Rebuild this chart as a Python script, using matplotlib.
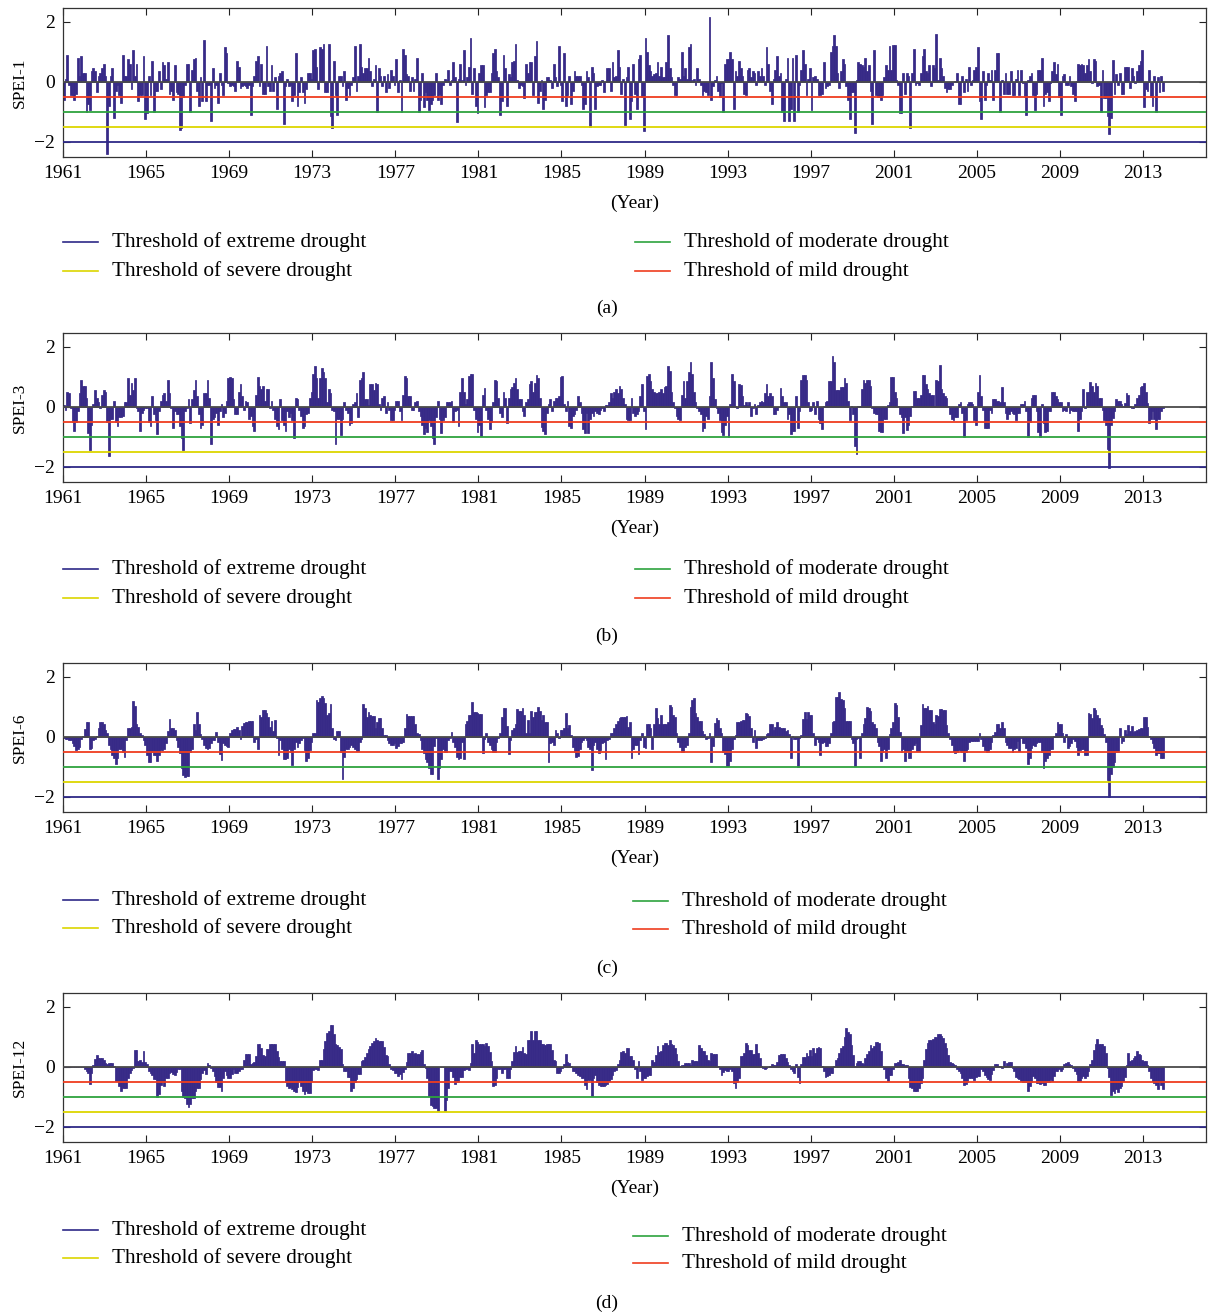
import numpy as np
import matplotlib.pyplot as plt
from matplotlib.lines import Line2D

plt.rcParams['font.family'] = ['Liberation Serif', 'DejaVu Serif']

# --------------------------
# Monthly SPEI values, Jan 1961 - Dec 2013 (one row per year)
# --------------------------
spei1 = [
    -0.6, 0.1, 0.9, -0.1, -0.45, -0.45, -0.6, -0.4, 0.8, 0.2, 0.85, 0.3,
    0.3, -1.0, -0.75, -0.95, 0.35, 0.45, 0.35, -0.35, 0.2, 0.3, 0.45, 0.6,
    0.2, -2.4, -0.8, 0.2, 0.45, -1.2, -0.3, -0.1, -0.45, -0.7, 0.9, 0.2,
    0.2, 0.75, 0.6, -0.25, 1.05, 0.2, 0.6, -0.65, -0.45, -0.45, 0.85, -1.25,
    -1.05, 0.2, -0.45, 0.7, -1.0, -0.3, -0.3, 0.35, -0.25, 0.65, 0.55, 0.1,
    0.65, -0.4, -0.3, -0.6, 0.55, -0.35, -0.4, -1.6, -1.55, -0.5, -0.1, 0.6,
    0.6, -1.0, 0.4, 0.75, 0.8, -0.3, -0.8, 0.15, -0.65, 1.4, -0.65, -0.1,
    -0.1, -1.3, 0.45, -0.2, -0.1, -0.7, 0.3, -0.1, -0.45, 1.15, 0.95, -0.05,
    -0.15, -0.1, -0.15, -0.3, 0.7, 0.5, -0.2, -0.15, -0.1, -0.15, -0.2, -0.1,
    -1.1, -0.15, 0.2, 0.7, 0.85, -0.15, 0.6, -0.4, -0.4, 1.2, -0.15, -0.3,
    0.55, -0.3, 0.15, -0.9, 0.2, 0.3, 0.35, -1.4, -0.15, 0.1, -0.15, -0.1,
    -0.65, -0.45, 0.95, -0.8, -0.35, 0.15, -0.35, -0.7, -0.25, 0.3, 0.3, 0.1,
    1.05, 1.1, 0.5, -0.25, 1.15, 1.1, 1.25, -0.35, -0.35, 1.25, -1.15, -1.55,
    0.7, -0.45, -1.1, 0.2, 0.2, -0.15, 0.35, -0.6, -0.2, -0.45, -0.1, 0.15,
    1.2, -0.3, 0.2, 1.25, 0.5, 0.3, 0.45, 0.45, 0.8, 0.35, -0.15, 0.1,
    0.55, -1.0, 0.45, 0.2, -0.15, 0.2, -0.35, 0.25, -0.2, 0.4, 0.2, -0.1,
    0.75, -0.35, 0.05, -1.0, 1.1, 0.9, 0.25, 0.2, -0.3, 0.15, -0.3, 0.1,
    0.8, -1.0, -0.6, 0.3, -0.85, -0.35, -0.6, -0.95, -0.75, -0.6, -0.45, 0.3,
    -0.6, -0.4, -0.75, -0.1, 0.1, 0.05, 0.4, -0.1, 0.05, 0.65, 0.15, -1.35,
    0.1, 0.6, 0.05, 1.05, -0.1, 0.15, 0.5, 1.45, -0.4, 0.45, -0.8, -1.05,
    0.3, 0.55, 0.55, -0.85, -0.45, -0.35, -0.35, 0.3, 0.95, 1.1, 0.35, 0.15,
    -1.1, -0.65, 0.9, 0.45, -0.8, 0.25, 0.15, 0.65, 0.7, 1.25, 0.05, -0.2,
    -0.1, -0.15, -0.55, 0.6, 0.3, 0.65, 0.65, -0.45, 0.85, 1.35, -0.7, -0.3,
    0.05, -0.9, -0.6, 0.15, 0.15, 0.05, -0.2, 0.6, 0.15, -0.15, 1.2, -0.1,
    -0.65, 0.95, -0.8, -0.45, 0.2, -0.75, -0.3, 0.35, 0.2, 0.2, 0.2, -0.1,
    -0.9, -0.75, 0.35, 0.15, -1.5, 0.5, 0.3, -0.9, -0.15, -0.1, -0.1, 0.05,
    -0.35, 0.0, 0.45, 0.45, -0.3, 0.65, 0.15, 0.2, 1.05, 0.5, -0.4, 0.1,
    -1.45, 0.15, 0.5, -1.25, -0.65, 0.6, -0.4, -0.9, 0.75, 0.9, -0.5, -1.65,
    1.45, 1.0, 0.55, 0.35, 0.2, 0.25, 0.3, 0.65, 0.2, 0.5, 0.15, 0.15,
    0.65, 1.55, 0.45, 0.15, -0.1, -0.45, -0.45, 0.15, 0.1, 1.0, 0.2, 0.45,
    0.1, 1.15, 1.25, 0.05, 0.1, -0.1, 0.45, 0.1, -0.1, -0.45, -0.3, -0.35,
    -0.45, 2.15, -0.6, -0.15, 0.05, 0.2, -0.3, -0.5, -0.05, -1.0, 0.6, 0.75,
    0.75, 1.0, 0.75, -0.9, 0.35, 0.2, 0.7, 0.45, 0.2, -0.4, -0.45, 0.4,
    0.45, 0.15, 0.35, 0.3, -0.1, 0.35, 0.2, 0.45, 0.2, -0.1, 1.15, 0.6,
    -0.3, -0.75, 0.1, 0.4, 0.85, 0.2, 0.3, -1.0, -1.3, 0.1, 0.8, -1.3,
    -0.9, 0.8, -1.3, 0.9, -1.0, -0.1, 0.4, 1.05, 0.6, -0.45, 0.1, 0.45,
    -0.95, 0.15, 0.2, 0.1, -0.45, -0.45, -0.4, 0.65, -0.2, -0.15, -0.1, 1.0,
    1.2, 1.55, 1.2, 0.3, -0.2, 0.35, 0.75, 0.6, -0.15, -0.6, -1.25, -0.35,
    -0.35, -1.7, 0.05, 0.65, 0.6, 0.55, 0.5, 0.8, 0.35, 0.55, -0.3, -1.4,
    1.05, -0.45, -0.5, -0.5, -0.6, -0.45, 0.15, 0.55, 0.4, 1.2, 0.4, 1.22,
    1.22, 0.05, -0.1, -1.05, -1.05, 0.3, -0.4, 0.3, 0.2, -1.55, 0.3, 1.1,
    -0.1, -0.05, -0.1, 0.3, 0.85, 1.1, 0.35, 0.3, 0.55, -0.15, 0.55, 0.45,
    1.6, 0.05, 0.8, 0.45, 0.2, -0.2, -0.35, -0.25, -0.25, -0.1, 0.0, 0.02,
    0.3, -0.75, -0.75, 0.2, -0.35, 0.1, -0.3, 0.5, -0.1, 0.05, 0.4, 0.5,
    1.15, -0.65, -1.25, 0.35, -0.6, -0.1, 0.3, 0.05, 0.4, -0.6, 0.4, 0.95,
    0.95, -1.0, 0.05, -0.4, 0.3, -0.4, -0.4, 0.35, -0.45, -0.45, 0.1, 0.4,
    -0.45, 0.4, -0.05, -0.5, -1.1, 0.05, 0.2, 0.3, -0.45, -0.95, -0.4, 0.4,
    0.4, 0.8, -0.8, -0.4, -0.35, -0.65, -0.05, 0.35, 0.65, 0.25, 0.6, -0.5,
    -1.1, 0.2, 0.25, -0.1, -0.1, 0.2, -0.15, -0.4, -0.65, 0.02, 0.6, 0.55,
    0.6, 0.55, 0.3, 0.55, 0.75, 0.35, -0.05, 0.75, 0.7, -0.15, -0.1, -1.0,
    0.4, -0.55, -0.55, -1.15, -1.75, -1.2, 0.72, -0.4, 0.25, -0.1, 0.3, -0.4,
    -0.4, 0.5, 0.5, 0.5, -0.2, 0.45, 0.2, -0.05, 0.35, 0.55, 0.7, 1.07,
    -0.85, -0.25, -0.3, 0.4, -0.5, -0.8, 0.2, -1.0, 0.15, -0.35, 0.2, -0.3,
]

spei3 = [
    0.05, -0.1, 0.5, 0.45, -0.05, -0.5, -0.8, -0.5, -0.15, 0.45, 0.9, 0.7,
    0.7, 0.3, -0.87, -1.45, -0.6, 0.1, 0.55, 0.3, 0.15, -0.05, 0.4, 0.55,
    0.5, -0.5, -1.65, -0.4, -0.4, 0.2, -0.5, -0.65, -0.35, -0.35, -0.3, 0.15,
    0.15, 0.95, 0.4, 0.8, 0.55, 0.95, -0.05, -0.15, -0.8, -0.2, -0.1, -0.05,
    -0.05, -0.5, -0.65, 0.35, -0.25, -0.45, -0.9, -0.15, 0.2, 0.4, 0.45, 0.2,
    0.9, 0.45, -0.05, -0.7, -0.15, -0.25, -0.25, -0.65, -1.05, -1.45, -0.15, -0.05,
    0.25, -0.55, 0.25, 0.55, 0.9, 0.35, -0.25, -0.7, -0.6, 0.45, 0.45, 0.9,
    0.3, -1.25, -0.4, -0.35, -0.2, -0.6, -0.15, 0.1, -0.35, -0.2, 0.2, 0.95,
    1.0, 0.95, 0.25, -0.25, -0.25, 0.5, 0.75, 0.35, -0.1, 0.2, 0.15, -0.4,
    -0.3, -0.65, -0.8, 0.4, 1.0, 0.7, 0.6, 0.7, 0.2, 0.6, 0.6, -0.05,
    0.2, -0.1, -0.4, -0.65, -0.75, 0.25, -0.45, -0.6, -0.8, -0.15, -0.35, -0.2,
    -0.45, -1.05, 0.3, 0.25, -0.1, -0.3, -0.7, -0.65, -0.25, -0.2, 0.3, 0.5,
    1.1, 1.35, 0.95, 0.3, 0.95, 1.28, 1.17, 0.95, 0.15, 0.6, 0.45, -0.1,
    -0.15, -1.25, -0.4, -0.4, -0.95, -0.4, 0.15, -0.1, -0.2, -0.6, -0.55, 0.1,
    0.15, 0.45, -0.35, 0.9, 0.95, 1.15, 0.25, 0.25, 0.05, 0.75, 0.75, 0.55,
    0.8, 0.75, 0.1, -0.1, 0.3, 0.35, -0.2, 0.15, -0.1, -0.45, -0.45, -0.1,
    0.2, 0.2, -0.15, -0.45, 0.4, 1.02, 0.95, 0.35, 0.35, -0.1, -0.1, 0.15,
    0.2, -0.15, -0.3, -0.6, -0.9, -0.7, -0.85, -0.45, -0.65, -1.05, -1.25, -0.35,
    0.2, -0.4, -0.87, -0.45, -0.35, 0.15, 0.15, 0.15, 0.2, -0.5, -0.15, -0.1,
    -0.65, 0.5, 0.95, 0.5, 0.1, 0.25, 1.02, 1.08, 1.1, -0.1, -0.4, -0.85,
    -0.6, -0.97, 0.4, 0.63, -0.1, -0.4, -0.75, -0.5, 0.15, 0.88, 0.85, 0.3,
    -0.2, -0.35, 0.5, 0.3, -0.55, 0.3, 0.6, 0.65, 0.8, 0.97, 0.6, 0.25,
    0.25, -0.15, -0.3, 0.15, 0.25, 0.75, 0.85, 0.5, 0.8, 1.05, 0.95, 0.3,
    -0.68, -0.8, -0.9, -0.2, 0.1, 0.25, -0.15, 0.2, 0.3, 0.3, 0.35, 1.0,
    1.02, 0.1, -0.15, 0.2, -0.65, -0.7, -0.3, -0.25, -0.1, 0.35, 0.15, -0.2,
    -0.75, -0.87, -0.2, -0.87, -0.4, -0.2, -0.3, -0.15, -0.2, -0.25, -0.1, -0.05,
    -0.15, 0.05, 0.05, 0.15, 0.45, 0.3, 0.5, 0.6, 0.45, 0.7, 0.6, 0.3,
    0.1, -0.4, -0.45, -0.45, 0.3, -0.2, -0.3, -0.25, -0.15, 0.35, 0.77, -0.15,
    -0.75, 1.02, 1.1, 0.85, 0.6, 0.5, 0.45, 0.45, 0.5, 0.6, 0.45, 0.65,
    0.7, 1.35, 1.2, 0.5, 0.15, -0.05, -0.3, -0.4, -0.45, 0.4, 0.85, 0.3,
    0.85, 1.17, 1.47, 1.08, 0.5, 0.15, -0.05, -0.15, -0.25, -0.8, -0.7, -0.3,
    -0.4, 0.35, 1.47, 0.95, 0.25, -0.05, -0.2, -0.45, -0.85, -0.95, -0.6, -0.3,
    -1.0, 0.1, 1.1, 0.85, 0.02, -0.05, 0.77, 0.72, 0.35, 0.05, 0.15, 0.05,
    0.15, -0.3, -0.05, 0.1, -0.25, 0.05, 0.15, 0.2, 0.15, 0.45, 0.77, 0.35,
    0.45, 0.35, -0.25, -0.25, -0.1, 0.0, 0.63, 0.35, 0.15, 0.15, -0.4, -0.25,
    -0.9, -0.8, -0.8, 0.35, -0.7, -0.15, 0.9, 1.07, 1.07, 0.9, 0.15, -0.15,
    -0.1, 0.15, -0.25, 0.2, -0.4, -0.55, -0.73, 0.02, 0.15, 0.2, 0.85, 0.85,
    1.68, 1.47, 0.55, 0.55, 0.55, 0.65, 0.65, 0.97, 0.8, 0.2, -0.45, 0.02,
    -0.25, -1.3, -1.57, 0.02, 0.02, 0.6, 0.88, 0.8, 0.9, 0.9, 0.7, -0.05,
    -0.2, -0.25, -0.25, -0.8, -0.85, -0.85, -0.4, -0.4, 0.05, 0.15, 1.0, 1.0,
    0.5, 0.3, 0.02, -0.25, -0.35, -0.87, -0.35, -0.77, -0.6, -0.3, 0.02, 0.52,
    0.52, 0.3, 0.3, 0.4, 1.07, 1.07, 0.75, 0.6, 0.45, 0.4, 0.4, 0.02,
    0.9, 0.85, 1.4, 0.6, 0.45, 0.35, 0.3, 0.02, -0.25, -0.4, -0.45, -0.35,
    -0.35, 0.1, 0.15, -0.2, -1.0, -0.45, 0.1, 0.15, 0.15, 0.1, -0.45, -0.6,
    0.5, 1.07, 0.35, -0.1, -0.7, -0.7, -0.7, -0.1, -0.2, 0.25, 0.25, 0.2,
    0.2, 0.15, 0.65, 0.15, -0.2, -0.4, -0.25, -0.15, -0.2, -0.25, -0.45, -0.2,
    -0.2, 0.1, 0.1, 0.2, -0.15, -1.0, -0.5, 0.3, 0.4, 0.4, -0.15, -0.83,
    -1.0, 0.1, -0.55, -0.83, -0.8, -0.15, -0.15, 0.5, 0.5, 0.35, 0.25, 0.15,
    0.15, -0.15, -0.1, -0.15, 0.15, -0.2, -0.1, -0.15, -0.15, -0.15, -0.8, -0.4,
    -0.15, 0.6, -0.05, 0.5, 0.5, 0.83, 0.7, 0.5, 0.8, 0.7, 0.3, 0.28,
    -0.1, -0.45, -0.6, -1.42, -2.03, -0.6, -0.37, -0.15, 0.25, 0.2, 0.19, 0.1,
    0.02, 0.13, 0.47, 0.4, 0.02, -0.05, -0.05, 0.08, 0.3, 0.38, 0.65, 0.7,
    0.78, 0.5, 0.13, -0.53, -0.4, -0.15, -0.42, -0.75, -0.42, -0.42, -0.15, -0.05,
]

spei6 = [
    -0.05, -0.08, -0.08, -0.1, -0.1, -0.2, -0.3, -0.45, -0.42, -0.33, -0.08, 0.02,
    0.25, 0.5, 0.48, -0.4, -0.37, -0.12, -0.08, 0.02, 0.28, 0.5, 0.5, 0.44,
    0.22, 0.14, -0.28, -0.41, -0.6, -0.72, -0.92, -0.72, -0.41, -0.41, -0.5, -0.67,
    -0.1, 0.28, 0.28, 0.33, 1.19, 1.03, 0.44, 0.33, 0.11, 0.05, -0.11, -0.28,
    -0.6, -0.85, -0.85, -0.5, -0.6, -0.62, -0.8, -0.62, -0.45, -0.45, -0.42, -0.2,
    0.2, 0.6, 0.3, 0.28, 0.22, -0.1, -0.33, -0.55, -1.05, -1.27, -1.35, -1.3,
    -1.3, -0.5, -0.41, 0.41, 0.22, 0.83, 0.41, 0.1, -0.08, -0.28, -0.39, -0.41,
    -0.37, -0.2, -0.12, -0.1, 0.17, -0.17, -0.58, -0.78, -0.22, -0.28, -0.31, -0.33,
    0.11, 0.22, 0.25, 0.26, 0.33, 0.22, -0.08, 0.37, 0.45, 0.48, 0.5, 0.52,
    0.52, 0.52, -0.17, -0.08, -0.41, 0.72, 0.67, 0.9, 0.9, 0.78, 0.67, 0.33,
    0.52, 0.19, 0.55, -0.05, -0.6, -0.11, -0.41, -0.75, -0.75, -0.7, -0.41, -0.5,
    -0.95, -0.41, -0.17, -0.33, -0.22, -0.1, -0.05, -0.44, -0.8, -0.72, -0.44, -0.17,
    0.11, 0.11, 1.22, 1.17, 1.28, 1.35, 1.3, 1.11, 0.72, 0.78, 1.09, 0.3,
    -0.08, -0.11, 0.2, 0.2, -0.5, -1.41, -0.67, -0.41, -0.41, -0.33, -0.28, -0.33,
    -0.41, -0.48, -0.48, -0.17, -0.08, 1.08, 0.95, 0.67, 0.83, 0.72, 0.69, 0.69,
    0.3, 0.5, 0.63, 0.63, 0.28, 0.05, 0.05, -0.1, -0.2, -0.26, -0.26, -0.22,
    -0.39, -0.3, -0.22, -0.22, -0.17, 0.28, 0.75, 0.7, 0.7, 0.7, 0.7, 0.44,
    0.11, 0.08, -0.11, -0.41, -0.55, -0.75, -0.83, -1.05, -1.25, -1.25, -0.3, -0.05,
    -1.39, -1.05, -0.75, -0.41, -0.5, -0.5, -0.11, -0.05, 0.17, -0.17, -0.33, -0.67,
    -0.75, -0.72, -0.17, -0.75, 0.41, 0.52, 0.72, 0.72, 1.14, 0.83, 0.83, 0.78,
    0.74, 0.74, -0.55, -0.08, 0.11, -0.17, -0.28, -0.41, -0.52, -0.52, -0.17, -0.05,
    0.13, 0.67, 0.97, 0.97, 0.37, -0.58, -0.11, 0.22, 0.28, 0.44, 0.91, 0.86,
    0.86, 0.94, 0.72, 0.13, 0.55, 0.14, 0.86, 0.67, 0.83, 0.83, 1.0, 0.86,
    0.55, 0.72, 0.5, 0.5, -0.85, -0.22, -0.17, -0.26, 0.22, 0.14, -0.05, 0.22,
    0.22, 0.28, 0.78, 0.28, 0.39, 0.05, -0.33, -0.5, -0.67, -0.63, -0.41, -0.17,
    -0.11, -0.05, -0.1, -0.33, -0.41, -1.11, -0.26, -0.17, -0.41, -0.55, -0.44, -0.2,
    -0.17, -0.75, -0.11, -0.08, 0.14, 0.14, 0.28, 0.44, 0.52, 0.63, 0.67, 0.67,
    0.67, 0.7, 0.33, 0.5, -0.72, -0.41, -0.26, -0.26, -0.58, -0.11, 0.14, -0.33,
    -0.37, 0.44, 0.44, 0.28, -0.41, 0.44, 0.94, 0.61, 0.44, 0.72, 0.44, 0.44,
    0.44, 0.5, 1.05, 1.0, 0.72, 0.67, 0.14, -0.17, -0.33, -0.5, -0.5, -0.33,
    -0.26, 0.14, 1.0, 1.22, 1.3, 0.78, 0.67, 0.52, 0.52, 0.2, 0.1, -0.08,
    -0.05, 0.11, -0.85, -0.3, 0.47, 0.63, 0.55, 0.3, 0.11, -0.52, -0.58, -0.97,
    -0.97, -0.81, -0.41, -0.08, 0.05, 0.5, 0.5, 0.52, 0.55, 0.55, 0.78, 0.74,
    0.7, 0.28, -0.17, 0.22, -0.37, -0.1, -0.1, -0.11, -0.08, -0.05, 0.08, 0.11,
    0.44, 0.44, 0.22, 0.33, 0.5, 0.33, 0.28, 0.28, 0.3, 0.2, 0.22, 0.08,
    -0.7, 0.03, -0.08, -0.08, -1.0, -0.03, 0.05, 0.59, 0.83, 0.59, 0.83, 0.72,
    0.72, 0.11, -0.26, -0.08, -0.17, -0.59, -0.22, -0.17, -0.3, -0.3, -0.22, 0.11,
    0.5, 0.52, 1.33, 1.33, 1.48, 1.26, 1.22, 0.94, 0.52, 0.52, 0.52, -0.08,
    -0.22, -0.97, -0.08, -0.03, -0.72, 0.11, 0.44, 0.63, 1.0, 0.94, 0.86, 0.5,
    0.44, 0.3, -0.17, -0.3, -0.81, -0.5, -0.41, -0.72, -0.41, 0.1, 0.3, 0.5,
    1.11, 1.05, 0.67, 0.17, -0.5, -0.41, -0.81, -0.48, -0.72, -0.72, -0.41, -0.26,
    -0.22, -0.48, -0.48, 0.39, 1.08, 0.94, 0.94, 1.03, 0.89, 0.89, 0.5, 0.41,
    0.72, 0.7, 0.92, 0.92, 0.89, 0.89, 0.39, 0.14, -0.08, -0.28, -0.48, -0.55,
    -0.5, -0.45, -0.48, -0.5, -0.81, -0.5, -0.41, -0.19, -0.15, -0.15, -0.15, -0.15,
    -0.15, 0.11, -0.08, -0.3, -0.44, -0.5, -0.5, -0.41, -0.19, 0.05, 0.17, 0.41,
    0.41, 0.3, 0.5, 0.28, -0.19, -0.28, -0.37, -0.37, -0.52, -0.41, -0.37, -0.15,
    -0.48, -0.05, -0.2, -0.22, -0.39, -0.89, -0.72, -0.37, -0.28, -0.3, -0.22, -0.17,
    -0.17, -0.52, -1.03, -0.81, -0.72, -0.61, -0.41, -0.41, 0.03, 0.11, 0.48, 0.41,
    0.41, 0.11, -0.19, 0.08, -0.37, -0.3, -0.22, -0.08, -0.15, -0.33, -0.59, -0.44,
    -0.41, -0.41, -0.59, -0.59, 0.78, 0.74, 0.61, 0.97, 0.89, 0.72, 0.61, 0.4,
    0.28, 0.08, -0.17, -1.44, -2.0, -1.25, -1.0, -0.83, -0.5, -0.5, 0.3, -0.22,
    -0.15, 0.22, 0.08, 0.39, 0.19, 0.37, 0.17, 0.19, 0.22, 0.25, 0.28, 0.3,
    0.67, 0.67, 0.33, 0.02, -0.08, -0.2, -0.37, -0.59, -0.55, -0.55, -0.72, -0.72,
]

spei12 = [
    0.0, 0.0, 0.0, 0.0, 0.0, 0.0, 0.0, 0.0, 0.0, 0.0, 0.0, 0.0,
    -0.08, -0.15, -0.2, -0.57, -0.2, 0.05, 0.25, 0.39, 0.28, 0.28, 0.3, 0.21,
    0.13, 0.08, 0.13, 0.13, 0.13, 0.02, -0.48, -0.48, -0.64, -0.79, -0.7, -0.7,
    -0.7, -0.39, -0.2, -0.12, -0.05, 0.54, 0.54, 0.19, 0.24, 0.17, 0.52, 0.17,
    0.08, -0.14, -0.2, -0.26, -0.42, -0.42, -1.01, -0.92, -0.59, -0.48, -0.64, -0.37,
    -0.37, -0.2, -0.17, -0.23, -0.28, -0.17, -0.08, -0.08, -0.81, -1.01, -1.03, -1.23,
    -1.34, -1.23, -1.03, -1.03, -0.81, -0.7, -0.7, -0.42, -0.2, -0.1, -0.23, 0.13,
    0.05, -0.05, -0.14, -0.31, -0.5, -0.68, -0.68, -0.79, -0.37, -0.14, -0.26, -0.39,
    -0.39, -0.23, -0.09, -0.2, -0.2, -0.14, -0.09, -0.08, 0.24, 0.43, 0.44, 0.43,
    0.1, 0.13, 0.17, 0.36, 0.77, 0.77, 0.63, 0.39, 0.36, 0.58, 0.58, 0.74,
    0.74, 0.74, 0.74, 0.52, 0.32, 0.19, 0.19, 0.19, -0.5, -0.64, -0.7, -0.68,
    -0.75, -0.79, -0.83, -0.68, -0.48, -0.64, -0.81, -0.9, -0.81, -0.87, -0.87, -0.48,
    -0.12, -0.06, -0.06, -0.12, 0.24, 0.24, 0.58, 0.86, 1.13, 1.19, 1.39, 1.39,
    1.08, 0.74, 0.72, 0.66, 0.58, 0.08, -0.14, -0.14, -0.34, -0.35, -0.81, -0.7,
    -0.5, -0.42, -0.25, -0.23, 0.2, 0.21, 0.32, 0.46, 0.58, 0.69, 0.8, 0.86,
    0.94, 0.88, 0.86, 0.86, 0.86, 0.66, 0.39, 0.36, 0.08, -0.06, -0.12, -0.2,
    -0.2, -0.31, -0.23, -0.42, -0.17, -0.06, 0.17, 0.47, 0.47, 0.52, 0.43, 0.47,
    0.41, 0.41, 0.5, 0.54, 0.08, -0.05, -0.39, -0.98, -1.26, -1.3, -1.37, -1.37,
    -1.46, 0.0, 0.0, 0.0, -1.46, -1.09, -0.72, -0.14, -0.14, -0.34, -0.57, -0.5,
    -0.5, -0.34, -0.34, -0.12, -0.09, -0.06, -0.12, 0.13, 0.77, 0.47, 0.88, 0.83,
    0.77, 0.77, 0.77, 0.69, 0.8, 0.69, 0.5, 0.2, -0.64, -0.59, -0.39, -0.06,
    -0.09, -0.2, -0.09, -0.09, -0.39, -0.37, -0.06, 0.19, 0.5, 0.69, 0.5, 0.52,
    0.52, 0.66, 0.47, 0.41, 0.88, 0.88, 1.19, 0.88, 1.19, 1.19, 0.88, 0.88,
    0.77, 0.74, 0.72, 0.77, 0.74, 0.74, 0.54, 0.24, 0.19, -0.2, -0.2, -0.14,
    -0.05, 0.08, 0.43, 0.17, 0.13, 0.02, -0.14, -0.14, -0.2, -0.26, -0.31, -0.37,
    -0.37, -0.61, -0.75, -0.45, -0.45, -0.98, -0.39, -0.28, -0.5, -0.61, -0.64, -0.64,
    -0.64, -0.61, -0.57, -0.48, -0.42, -0.28, -0.14, -0.12, 0.1, 0.21, 0.5, 0.52,
    0.47, 0.61, 0.61, 0.36, 0.36, 0.21, -0.09, -0.39, 0.19, -0.14, -0.45, -0.37,
    -0.37, -0.31, -0.26, -0.26, 0.21, 0.17, 0.39, 0.69, 0.5, 0.52, 0.72, 0.8,
    0.8, 0.72, 0.88, 0.74, 0.72, 0.63, 0.41, 0.19, 0.02, 0.05, 0.05, 0.13,
    0.13, 0.13, 0.05, 0.21, 0.19, 0.19, 0.19, 0.72, 0.63, 0.52, 0.52, 0.39,
    0.21, 0.19, 0.47, 0.43, 0.43, 0.43, 0.02, -0.09, -0.26, -0.17, -0.12, -0.14,
    -0.14, -0.06, -0.14, -0.53, -0.7, -0.5, -0.39, 0.36, 0.36, 0.47, 0.8, 0.72,
    0.54, 0.54, 0.43, 0.43, 0.74, 0.47, 0.3, 0.02, -0.05, -0.09, -0.04, -0.02,
    0.02, 0.08, 0.06, 0.06, 0.17, 0.39, 0.41, 0.41, 0.41, 0.3, 0.17, 0.06,
    -0.06, -0.14, -0.2, 0.08, -0.34, -0.53, 0.1, 0.32, 0.32, 0.47, 0.36, 0.54,
    0.36, 0.63, 0.47, 0.63, 0.66, 0.61, 0.02, -0.14, -0.34, -0.31, -0.28, -0.2,
    -0.2, 0.02, 0.21, 0.3, 0.47, 0.63, 0.7, 0.99, 1.28, 1.17, 1.08, 0.72,
    0.39, 0.02, 0.13, 0.19, 0.19, 0.13, 0.08, 0.3, 0.41, 0.52, 0.72, 0.63,
    0.7, 0.83, 0.83, 0.8, 0.52, 0.02, -0.09, -0.39, -0.48, -0.26, -0.26, -0.09,
    0.13, 0.13, 0.17, 0.24, 0.1, 0.08, 0.05, 0.05, -0.39, -0.68, -0.7, -0.81,
    -0.81, -0.79, -0.7, -0.53, -0.39, 0.21, 0.58, 0.8, 0.88, 0.88, 0.91, 0.99,
    0.99, 1.08, 1.08, 1.02, 0.94, 0.8, 0.63, 0.39, 0.17, 0.13, 0.08, 0.05,
    -0.09, -0.14, -0.2, -0.37, -0.62, -0.58, -0.5, -0.39, -0.39, -0.39, -0.45, -0.34,
    -0.31, -0.31, -0.06, -0.14, -0.28, -0.34, -0.42, -0.45, -0.25, -0.1, 0.08, 0.1,
    0.02, 0.02, -0.05, 0.19, 0.02, 0.13, 0.17, 0.17, -0.03, -0.14, -0.34, -0.39,
    -0.42, -0.48, -0.5, -0.5, -0.5, -0.79, -0.64, -0.5, -0.31, -0.37, -0.53, -0.53,
    -0.57, -0.53, -0.59, -0.61, -0.5, -0.5, -0.42, -0.48, -0.31, -0.14, -0.14, -0.06,
    -0.14, -0.06, 0.1, 0.13, 0.17, 0.1, 0.05, -0.05, -0.14, -0.25, -0.48, -0.48,
    -0.37, -0.31, -0.39, -0.31, -0.14, 0.1, 0.24, 0.54, 0.74, 0.91, 0.77, 0.77,
    0.74, 0.69, 0.47, -0.05, -0.34, -0.94, -0.79, -0.87, -0.75, -0.83, -0.7, -0.64,
    -0.48, -0.34, 0.05, 0.47, 0.19, 0.24, 0.3, 0.36, 0.52, 0.43, 0.39, 0.24,
    0.2, 0.19, 0.05, -0.14, -0.37, -0.48, -0.53, -0.62, -0.75, -0.5, -0.6, -0.75,
]

series = [spei1, spei3, spei6, spei12]
series_names = ['SPEI-1', 'SPEI-3', 'SPEI-6', 'SPEI-12']
panel_tags = ['(a)', '(b)', '(c)', '(d)']

start_year = 1961
year_ticks = list(range(1961, 2014, 4))
y_ticks = [-2, 0, 2]

thresholds = [-2.0, -1.5, -1.0, -0.5]
threshold_names = ['Threshold of extreme drought', 'Threshold of severe drought',
                   'Threshold of moderate drought', 'Threshold of mild drought']
threshold_colors = ['#2e2987', '#dcd600', '#2ea33e', '#ef3d1f']

BAR = '#372a87'

# --------------------------
# Layout (pixels of the 1208x1316 canvas)
# --------------------------
W, H = 1208, 1316
AX_L, AX_R = 63, 1206
ax_tops = [8, 333, 663, 993]
AX_H = 149
leg_left_rows = [(242, 271), (569, 598), (900, 928), (1230, 1258)]
leg_right_rows = [(242, 271), (569, 598), (901, 929), (1236, 1263)]
leg_right_x = [635, 635, 633, 633]
tag_y = [308, 636, 968, 1303]


def fx(x):
    return x / W


def fy(y):
    return 1 - y / H


fig = plt.figure(figsize=(W / 100, H / 100), dpi=100)

for k, vals in enumerate(series):
    top = ax_tops[k]
    ax = fig.add_axes([fx(AX_L), fy(top + AX_H), (AX_R - AX_L) / W, AX_H / H])

    x = start_year + np.arange(len(vals)) / 12.0
    ax.bar(x, vals, width=1 / 12, align='edge', color=BAR, edgecolor=BAR,
           linewidth=0.55, zorder=2)

    ax.axhline(0, color='#4a4a4a', lw=1.3, zorder=3)
    for t, c in zip(thresholds, threshold_colors):
        ax.axhline(t, color=c, lw=1.3, zorder=3)

    ax.set_xlim(1961, 2016.03)
    ax.set_ylim(-2.5, 2.45)
    ax.set_xticks(year_ticks)
    ax.set_yticks(y_ticks)
    ax.tick_params(direction='in', top=True, right=True, length=5, width=0.8,
                   labelsize=14, colors='#222222', labelcolor='black', pad=6)
    for s in ax.spines.values():
        s.set_color('#333333')
        s.set_linewidth(0.9)

    ax.set_ylabel(series_names[k], fontsize=12.5, labelpad=4)
    ax.set_xlabel('(Year)', fontsize=14, labelpad=9)

    # legend, two columns below the axes
    for j in range(4):
        if j < 2:
            y = leg_left_rows[k][j]
            x0 = AX_L
        else:
            y = leg_right_rows[k][j - 2]
            x0 = leg_right_x[k]
        fig.add_artist(Line2D([fx(x0), fx(x0 + 35)], [fy(y), fy(y)],
                              color=threshold_colors[j], lw=1.2))
        fig.text(fx(x0 + 49), fy(y), threshold_names[j], fontsize=15.3,
                 va='center', ha='left')

    fig.text(fx(607), fy(tag_y[k]), panel_tags[k], fontsize=14,
             ha='center', va='center')

fig.savefig('out.png', dpi=100)
